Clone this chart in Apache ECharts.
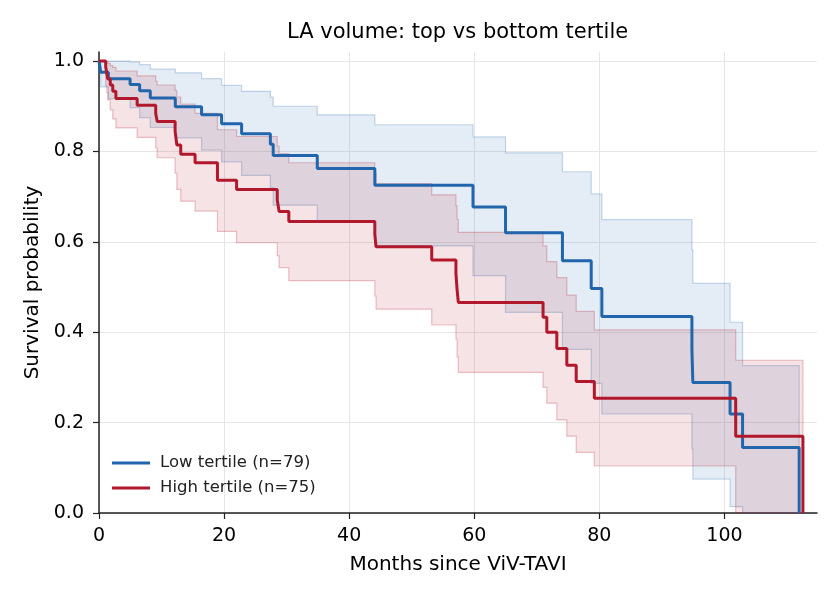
<!DOCTYPE html>
<html>
<head>
<meta charset="utf-8">
<script src="https://cdn.jsdelivr.net/npm/echarts@6/dist/echarts.min.js"></script>
<style>
html,body{margin:0;padding:0;background:#fff;}
#chart{width:840px;height:600px;}
</style>
</head>
<body>
<div id="chart"></div>
<script>
// Low tertile (n=79)
const blueT  = [0, 0.27, 1.5, 4.97, 6.5, 8.2, 12.2, 16.4, 19.6, 22.8, 27.4, 27.85, 34.9, 44.1, 59.8, 65.0, 74.1, 78.7, 80.4, 94.8, 94.95, 100.9, 102.9, 111.95];
const blueS  = [1.0, 0.975, 0.961, 0.948, 0.934, 0.918, 0.899, 0.881, 0.861, 0.839, 0.816, 0.791, 0.762, 0.725, 0.677, 0.620, 0.558, 0.497, 0.435, 0.362, 0.289, 0.219, 0.145, 0.0];
const blueHi = [1.0, 1.0, 1.0, 0.998, 0.992, 0.982, 0.974, 0.961, 0.946, 0.933, 0.92, 0.90, 0.881, 0.859, 0.832, 0.797, 0.755, 0.706, 0.649, 0.582, 0.508, 0.422, 0.326, 0.0];
const blueLo = [1.0, 0.943, 0.917, 0.897, 0.875, 0.853, 0.83, 0.803, 0.777, 0.747, 0.72, 0.681, 0.646, 0.591, 0.525, 0.444, 0.362, 0.287, 0.219, 0.142, 0.075, 0.014, 0.0, 0.0];

// High tertile (n=75)
const redT  = [0, 1.07, 1.25, 1.4, 1.8, 2.2, 2.7, 6.1, 9.07, 9.3, 12.17, 12.45, 13.07, 15.36, 18.94, 22.0, 28.5, 28.8, 30.35, 44.1, 44.3, 53.2, 57.07, 57.25, 57.45, 71.0, 71.6, 73.2, 74.8, 76.3, 79.2, 101.8, 112.55];
const redS  = [1.0, 0.987, 0.973, 0.96, 0.947, 0.933, 0.917, 0.902, 0.884, 0.866, 0.845, 0.814, 0.794, 0.775, 0.736, 0.716, 0.692, 0.667, 0.645, 0.617, 0.589, 0.56, 0.53, 0.495, 0.466, 0.433, 0.40, 0.364, 0.327, 0.291, 0.254, 0.17, 0.0];
const redHi = [1.0, 1.0, 0.998, 0.995, 0.99, 0.986, 0.978, 0.967, 0.955, 0.947, 0.935, 0.92, 0.905, 0.884, 0.848, 0.833, 0.812, 0.795, 0.775, 0.752, 0.729, 0.704, 0.68, 0.65, 0.621, 0.591, 0.556, 0.521, 0.482, 0.446, 0.405, 0.338, 0.0];
const redLo = [1.0, 0.945, 0.93, 0.914, 0.892, 0.872, 0.852, 0.831, 0.808, 0.786, 0.752, 0.716, 0.69, 0.668, 0.623, 0.598, 0.569, 0.543, 0.514, 0.48, 0.451, 0.416, 0.385, 0.345, 0.311, 0.278, 0.243, 0.206, 0.17, 0.134, 0.104, 0.0, 0.0];

const xTicks = [0, 20, 40, 60, 80, 100];
const yTicks = [0, 0.2, 0.4, 0.6, 0.8, 1.0];

const names = ['Low tertile (n=79)', 'High tertile (n=75)'];
const FONT = 'DejaVu Sans';
const BLUE = '#2166ac', RED = '#b2182b';

function pairs(t, v) { return t.map((x, i) => [x, v[i]]); }
function bandRows(t, lo, hi) { return t.map((x, i) => [x, lo[i], hi[i]]); }

// Confidence band drawn as one stepped polygon, positioned through the axes (api.coord)
function bandSeries(key, t, lo, hi, rgb) {
  const n = t.length;
  return {
    name: key, type: 'custom', data: bandRows(t, lo, hi), silent: true, z: 2,
    encode: { x: 0, y: [1, 2] },
    renderItem: function (params, api) {
      if (params.dataIndex !== 0) return null;
      const up = [], dn = [];
      for (let i = 0; i < n; i++) {
        const x0 = api.value(0, i), l = api.value(1, i), h = api.value(2, i);
        up.push(api.coord([x0, h]));
        dn.push(api.coord([x0, l]));
        if (i < n - 1) {
          const x1 = api.value(0, i + 1);
          up.push(api.coord([x1, h]));
          dn.push(api.coord([x1, l]));
        }
      }
      const pts = up.concat(dn.reverse());
      return {
        type: 'polygon',
        shape: { points: pts },
        style: { fill: 'rgba(' + rgb + ',0.12)', stroke: 'rgba(' + rgb + ',0.25)', lineWidth: 1.2 }
      };
    }
  };
}

const chart = echarts.init(document.getElementById('chart'), null, { renderer: 'canvas' });
const axisColor = '#222';
chart.setOption({
  animation: false,
  backgroundColor: '#fff',
  textStyle: { fontFamily: FONT },
  title: {
    text: 'LA volume: top vs bottom tertile',
    left: 287, top: 22, padding: 0,
    textStyle: { fontFamily: FONT, fontSize: 21, fontWeight: 'normal', color: '#000' }
  },
  legend: {
    data: names, orient: 'vertical', left: 112, top: 454.5, padding: 0,
    icon: 'rect', itemWidth: 38, itemHeight: 3, itemGap: 8,
    textStyle: { fontFamily: FONT, fontSize: 16.5, color: '#222', padding: [0, 0, 0, 5] }
  },
  grid: { left: 99, right: 23, top: 52, bottom: 87, containLabel: false },
  xAxis: {
    type: 'value', min: 0, max: 114.8,
    name: 'Months since ViV-TAVI', nameLocation: 'middle', nameGap: 42,
    nameTextStyle: { fontFamily: FONT, fontSize: 20, color: '#000' },
    axisLine: { show: true, lineStyle: { color: axisColor, width: 1.5 } },
    axisTick: { show: true, length: 6, lineStyle: { color: axisColor, width: 1.2 }, customValues: xTicks },
    axisLabel: { fontFamily: FONT, fontSize: 19, color: '#000', margin: 14, customValues: xTicks },
    splitLine: { show: true, lineStyle: { color: '#e6e6e6', width: 1 } }
  },
  yAxis: {
    type: 'value', min: 0, max: 1.02,
    name: 'Survival probability', nameLocation: 'middle', nameGap: 53,
    nameTextStyle: { fontFamily: FONT, fontSize: 20, color: '#000' },
    axisLine: { show: true, lineStyle: { color: axisColor, width: 1.5 } },
    axisTick: { show: true, length: 6, lineStyle: { color: axisColor, width: 1.2 }, customValues: yTicks },
    axisLabel: { fontFamily: FONT, fontSize: 19, color: '#000', margin: 15, customValues: yTicks,
      formatter: v => v.toFixed(1) },
    splitLine: { show: true, lineStyle: { color: '#e6e6e6', width: 1 } }
  },
  series: [
    bandSeries('blueBand', blueT, blueLo, blueHi, '33,102,172'),
    bandSeries('redBand', redT, redLo, redHi, '178,24,43'),
    { name: names[0], type: 'line', step: 'end', data: pairs(blueT, blueS), symbol: 'none', showSymbol: false,
      lineStyle: { color: BLUE, width: 3 }, itemStyle: { color: BLUE }, z: 5 },
    { name: names[1], type: 'line', step: 'end', data: pairs(redT, redS), symbol: 'none', showSymbol: false,
      lineStyle: { color: RED, width: 3 }, itemStyle: { color: RED }, z: 6 }
  ]
});
</script>
</body>
</html>
